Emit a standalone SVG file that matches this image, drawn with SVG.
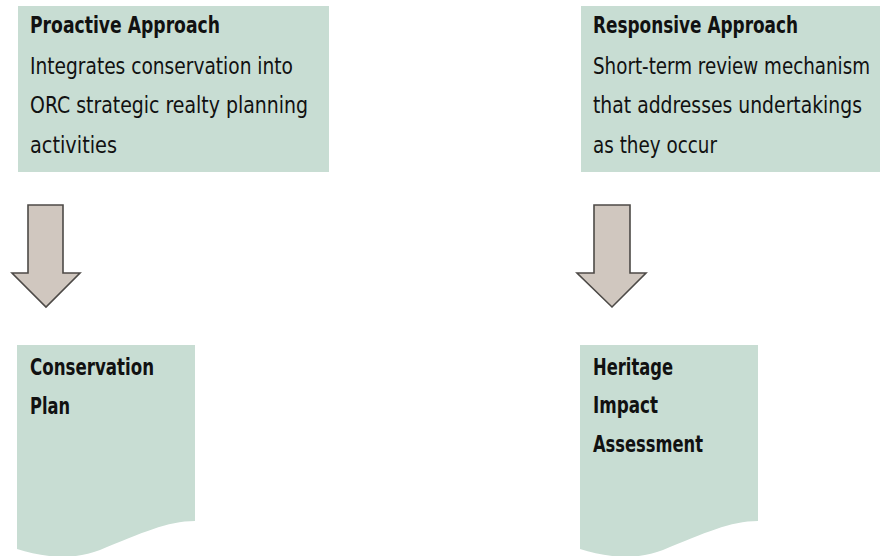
<svg xmlns="http://www.w3.org/2000/svg" width="880" height="556" viewBox="0 0 880 556">
  <style>
    .panel { fill: #c8ddd3; }
    .txt { font-family: "Liberation Sans Narrow", "DejaVu Sans Condensed", "Roboto Condensed", sans-serif; font-size: 23px; fill: #111; }
    .bold { font-weight: bold; }
    .arrow { fill: #d0c7bf; stroke: #4d4a47; stroke-width: 1.6; stroke-linejoin: miter; }
  </style>
  <defs>
    <!-- document shape with a wavy lower edge -->
    <path id="doc" d="M0,0 H178 V176 C150,176 125,188 83,205 C55,216 25,212 0,204 Z"/>
  </defs>

  <g id="proactive">
    <rect class="panel" x="18" y="6" width="311" height="166"/>
    <text class="txt bold" x="30" y="33" textLength="190" lengthAdjust="spacingAndGlyphs">Proactive Approach</text>
    <text class="txt" x="30" y="74" textLength="263" lengthAdjust="spacingAndGlyphs">Integrates conservation into</text>
    <text class="txt" x="30" y="113" textLength="278" lengthAdjust="spacingAndGlyphs">ORC strategic realty planning</text>
    <text class="txt" x="30" y="153" textLength="87" lengthAdjust="spacingAndGlyphs">activities</text>
  </g>

  <g id="responsive">
    <rect class="panel" x="581" y="6" width="299" height="166"/>
    <text class="txt bold" x="593" y="33" textLength="205" lengthAdjust="spacingAndGlyphs">Responsive Approach</text>
    <text class="txt" x="593" y="74" textLength="277" lengthAdjust="spacingAndGlyphs">Short-term review mechanism</text>
    <text class="txt" x="593" y="113" textLength="269" lengthAdjust="spacingAndGlyphs">that addresses undertakings</text>
    <text class="txt" x="593" y="153" textLength="124" lengthAdjust="spacingAndGlyphs">as they occur</text>
  </g>

  <g id="connectors">
    <path class="arrow" d="M28,205 H63 V273 H80 L46,307 L12,273 H28 Z"/>
    <path class="arrow" d="M594,205 H630 V273 H646 L612,307 L577,273 H594 Z"/>
  </g>

  <g id="conservation-plan">
    <use href="#doc" class="panel" x="17" y="345"/>
    <text class="txt bold" x="30" y="375" textLength="124" lengthAdjust="spacingAndGlyphs">Conservation</text>
    <text class="txt bold" x="30" y="414" textLength="40" lengthAdjust="spacingAndGlyphs">Plan</text>
  </g>

  <g id="heritage-impact-assessment">
    <use href="#doc" class="panel" x="580" y="345"/>
    <text class="txt bold" x="593" y="375" textLength="80" lengthAdjust="spacingAndGlyphs">Heritage</text>
    <text class="txt bold" x="593" y="413" textLength="65" lengthAdjust="spacingAndGlyphs">Impact</text>
    <text class="txt bold" x="593" y="452" textLength="110" lengthAdjust="spacingAndGlyphs">Assessment</text>
  </g>
</svg>
